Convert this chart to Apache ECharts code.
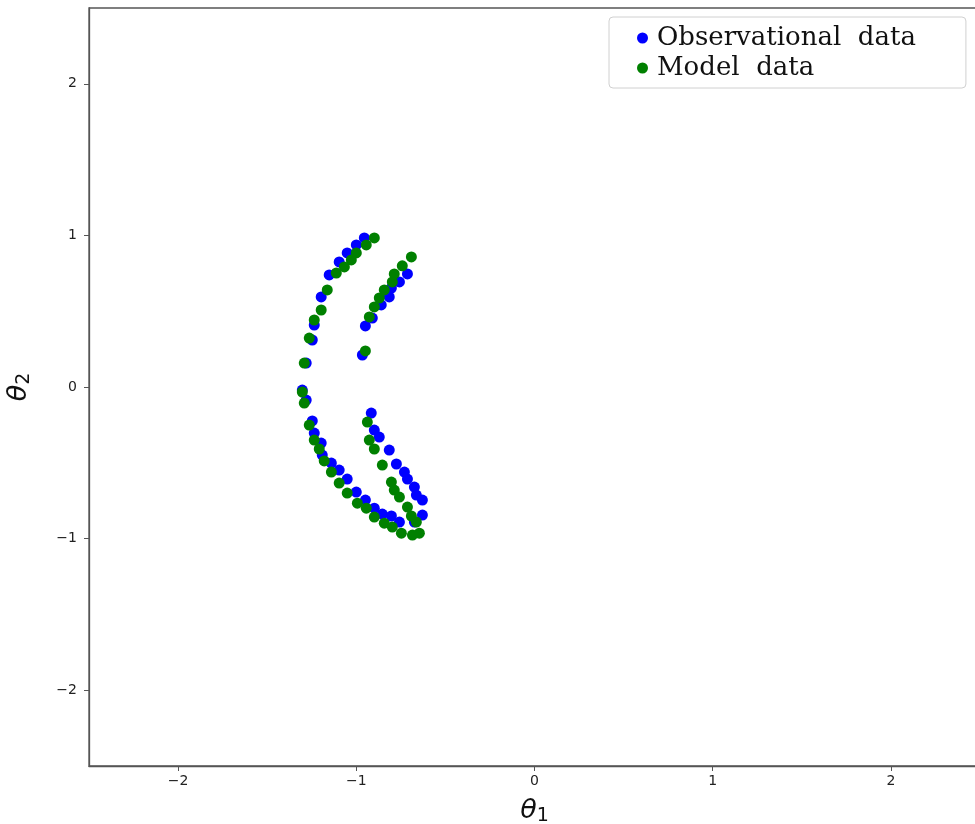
<!DOCTYPE html>
<html>
<head>
<meta charset="utf-8">
<script src="https://cdn.jsdelivr.net/npm/echarts@6/dist/echarts.min.js"></script>
<style>
  html, body { margin: 0; padding: 0; background: #fff; }
  #chart { width: 975px; height: 824px; }
</style>
</head>
<body>
<div id="chart"></div>
<script>
// θ1, θ2 pairs for the observed trajectory
const observational = [
  [-0.955, 0.983], [-1.000, 0.937], [-1.051, 0.884], [-1.096, 0.825], [-1.152, 0.739],
  [-1.197, 0.594], [-1.236, 0.409], [-1.247, 0.310], [-1.281, 0.158], [-1.303, -0.020],
  [-1.281, -0.086], [-1.247, -0.224], [-1.236, -0.304], [-1.197, -0.370], [-1.191, -0.449],
  [-1.140, -0.502], [-1.096, -0.548], [-1.051, -0.607], [-1.000, -0.693], [-0.949, -0.746],
  [-0.899, -0.799], [-0.854, -0.838], [-0.803, -0.851], [-0.758, -0.891], [-0.674, -0.891],
  [-0.629, -0.845],
  [-0.713, 0.746], [-0.758, 0.693], [-0.803, 0.653], [-0.815, 0.594], [-0.860, 0.541],
  [-0.910, 0.455], [-0.949, 0.403], [-0.966, 0.211],
  [-0.916, -0.172], [-0.899, -0.284], [-0.871, -0.330], [-0.815, -0.416], [-0.775, -0.508],
  [-0.730, -0.561], [-0.713, -0.607], [-0.674, -0.660], [-0.663, -0.713], [-0.629, -0.746]
];

// θ1, θ2 pairs produced by the model
const model = [
  [-0.899, 0.983], [-0.944, 0.937], [-1.000, 0.884], [-1.028, 0.838], [-1.067, 0.792],
  [-1.112, 0.752], [-1.163, 0.640], [-1.197, 0.508], [-1.236, 0.442], [-1.264, 0.323],
  [-1.292, 0.158], [-1.303, -0.033],
  [-1.292, -0.106], [-1.264, -0.251], [-1.236, -0.350], [-1.208, -0.409], [-1.180, -0.488],
  [-1.140, -0.561], [-1.096, -0.634], [-1.051, -0.700], [-0.994, -0.766], [-0.944, -0.799],
  [-0.899, -0.858], [-0.843, -0.898], [-0.798, -0.924], [-0.747, -0.964], [-0.685, -0.977],
  [-0.646, -0.964],
  [-0.691, 0.858], [-0.742, 0.799], [-0.787, 0.746], [-0.798, 0.693], [-0.843, 0.640],
  [-0.871, 0.587], [-0.899, 0.528], [-0.927, 0.462], [-0.949, 0.238],
  [-0.938, -0.231], [-0.927, -0.350], [-0.899, -0.409], [-0.854, -0.515], [-0.803, -0.627],
  [-0.787, -0.680], [-0.758, -0.726], [-0.713, -0.792], [-0.691, -0.851], [-0.663, -0.891]
];

const axisMin = -2.5;
const axisMax = 2.5;
const axisTicks = [-2, -1, 0, 1, 2];

const chart = echarts.init(document.getElementById('chart'), null, { renderer: 'canvas' });

const tickLabel = {
  fontFamily: 'DejaVu Sans',
  fontSize: 14,
  color: '#222',
  formatter: v => (axisTicks.indexOf(v) >= 0 ? String(v).replace('-', '\u2212') : '')
};

const axisNameRich = {
  t: { fontFamily: 'DejaVu Sans', fontStyle: 'italic', fontSize: 27, color: '#111' },
  s: { fontFamily: 'DejaVu Sans', fontSize: 19, color: '#111', padding: [12, 0, 0, 0] }
};

chart.setOption({
  animation: false,
  backgroundColor: '#fff',
  grid: {
    left: 89, right: -5, top: 8, bottom: 58,
    outerBoundsMode: 'none',
    containLabel: false,
    show: true, borderColor: '#555', borderWidth: 1.3
  },
  legend: {
    orient: 'vertical',
    left: 609, top: 17,
    padding: [7, 50, 6, 28],
    itemGap: 2,
    itemWidth: 11, itemHeight: 11,
    icon: 'circle',
    borderColor: '#d0d0d0', borderWidth: 1, borderRadius: 4,
    backgroundColor: '#fff',
    formatter: name => name.replace(' ', '  '),
    textStyle: { fontFamily: 'DejaVu Serif', fontSize: 26, lineHeight: 28, color: '#111', padding: [0, 0, 0, 4] },
    data: ['Observational data', 'Model data']
  },
  xAxis: {
    type: 'value', min: axisMin, max: axisMax, interval: 0.5,
    splitLine: { show: false },
    axisLine: { show: true, onZero: false, lineStyle: { color: '#555', width: 1.3 } },
    axisTick: { show: true, length: 5, lineStyle: { color: '#555' },
      customValues: axisTicks },
    axisLabel: Object.assign({ margin: 8, customValues: axisTicks }, tickLabel),
    name: '{t|θ}{s|1}',
    nameLocation: 'middle', nameGap: 29,
    nameTextStyle: { rich: axisNameRich }
  },
  yAxis: {
    type: 'value', min: axisMin, max: axisMax, interval: 0.5,
    splitLine: { show: false },
    axisLine: { show: true, onZero: false, lineStyle: { color: '#555', width: 1.3 } },
    axisTick: { show: true, length: 5, lineStyle: { color: '#555' },
      customValues: axisTicks },
    axisLabel: Object.assign({ margin: 12, customValues: axisTicks }, tickLabel),
    name: '{t|θ}{s|2}',
    nameLocation: 'middle', nameGap: 55, nameRotate: 90,
    nameTextStyle: { rich: axisNameRich }
  },
  series: [
    {
      name: 'Observational data', type: 'scatter', data: observational,
      symbol: 'circle', symbolSize: 11,
      itemStyle: { color: '#0000ff', opacity: 1 }
    },
    {
      name: 'Model data', type: 'scatter', data: model,
      symbol: 'circle', symbolSize: 11,
      itemStyle: { color: '#008000', opacity: 1 }
    }
  ]
});
</script>
</body>
</html>
